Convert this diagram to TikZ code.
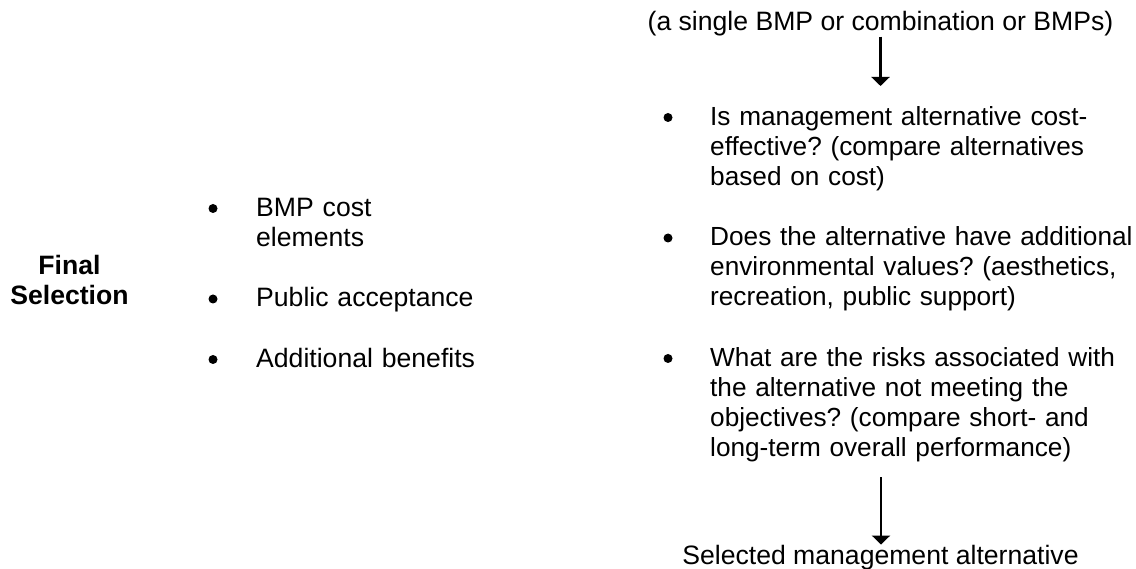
\documentclass[tikz,border=0pt]{standalone}
\usepackage{fontspec}
\setmainfont{Liberation Sans}
\usetikzlibrary{arrows.meta}
\frenchspacing
\begin{document}
\begin{tikzpicture}[x=1pt,y=-1pt,
  txt/.style={font=\fontsize{26.6pt}{30pt}\selectfont, inner sep=0pt},
  item/.style={txt, anchor=base west, align=left, text width=440pt},
  ritem/.style={item, font=\fontsize{26.2pt}{30pt}\selectfont},
  bul/.style={fill=black},
  arr/.style={line width=2.5pt, -{Triangle[width=18pt,length=9pt]}}]
\useasboundingbox (0,0) rectangle (1136,569);
% top text and arrow
\node[txt, anchor=base] (top) at (880.5,31) {(a single BMP or combination or BMPs)};
\coordinate (a1end) at (881,86);
\draw[arr] (top.south) -- (top.south |- a1end);
% right bullet list
\node[ritem] (r1) at (710,125.5) {Is management alternative cost-\\effective? (compare alternatives\\based on cost)};
\node[ritem] (r2) at (710,246) {Does the alternative have additional\\environmental values? (aesthetics,\\recreation, public support)};
\node[ritem] (r3) at (710,366.5) {What are the risks associated with\\the alternative not meeting the\\objectives? (compare short- and\\long-term overall performance)};
\fill[bul] (668pt,-117.5pt) circle[radius=4.5pt];
\fill[bul] (668pt,-238pt) circle[radius=4.5pt];
\fill[bul] (668pt,-358.5pt) circle[radius=4.5pt];
% bottom arrow and text
\node[txt, anchor=base] (sel) at (880.5,564) {Selected management alternative};
\coordinate (a2start) at (881,477);
\draw[arr] (a2start) -- (a2start |- sel.north) ;
% left label
\node[txt, anchor=base, align=center, text width=160pt, font=\fontsize{26.6pt}{30pt}\selectfont\bfseries] (fs) at (69.5,275) {Final\\Selection};
% left bullet list
\node[item, text width=300pt] (l1) at (256,216.5) {BMP cost\\elements};
\node[item, text width=300pt] (l2) at (256,307) {Public acceptance};
\node[item, text width=300pt] (l3) at (256,367.5) {Additional benefits};
\fill[bul] (213pt,-208.5pt) circle[radius=4.5pt];
\fill[bul] (213pt,-299pt) circle[radius=4.5pt];
\fill[bul] (213pt,-359.5pt) circle[radius=4.5pt];
\end{tikzpicture}
\end{document}
